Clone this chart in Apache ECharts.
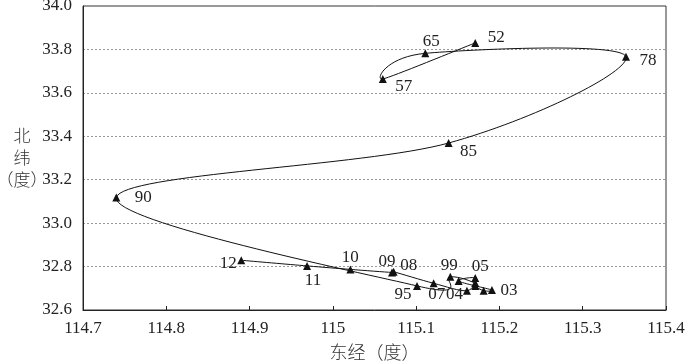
<!DOCTYPE html>
<html><head><meta charset="utf-8">
<script src="https://cdn.jsdelivr.net/npm/echarts@6/dist/echarts.min.js"></script>
<style>html,body{margin:0;padding:0;background:#fff}#c{width:686px;height:361px}</style>
</head><body><div id="c"></div>
<script>
// data (chronological)
const years = ['52','57','65','78','85','90','95','99','00','01','02','03','04','05','06','07','08','09','10','11','12'];
const lon   = [115.171,115.060,115.111,115.352,115.139,114.740,115.101,115.141,115.171,115.171,115.181,115.191,115.151,115.171,115.161,115.121,115.073,115.071,115.021,114.969,114.890];
const lat   = [33.830,33.664,33.782,33.766,33.369,33.118,32.711,32.753,32.724,32.710,32.689,32.692,32.733,32.747,32.689,32.723,32.776,32.773,32.787,32.803,32.829];
const shownLabels = ['52','57','65','78','85','90','95','99','03','04','05','07','08','09','10','11','12'];
const xTicks = {min:114.7, max:115.4, step:0.1};
const yTicks = {min:32.6, max:34.0, step:0.2};

// label placement (px offsets from the marker)
const labelOffset = {
  '52':[21,-5],'57':[21,8],'65':[6,-12],'78':[22,4],'85':[20,9],'90':[27,0],
  '95':[-14,9],'99':[-1,-11],'05':[5,-12],'03':[17,1],'04':[-4,13],'07':[3,11],
  '08':[15,-6],'09':[-5,-11],'10':[0,-12],'11':[6,15],'12':[-13,3]
};

const serif = 'Liberation Serif';
const pts = years.map((y,i)=>[lon[i],lat[i]]);
const data = years.map((y,i)=>{
  const item = {value:pts[i], name:y};
  if (shownLabels.includes(y)) {
    item.label = {show:true, position:'inside', offset:labelOffset[y], formatter:y,
      fontFamily:serif, fontSize:17, color:'#222'};
  }
  return item;
});

// smooth curve (Catmull-Rom style) through the points, placed with the chart's own scales
function renderSeg(params, api){
  const i = params.dataIndex;
  const n = pts.length;
  const P = j => api.coord(pts[Math.max(0, Math.min(n-1, j))]);
  const p0=P(i-1), p1=P(i), p2=P(i+1), p3=P(i+2);
  const k = 1/6;
  return {type:'bezierCurve', silent:true,
    shape:{x1:p1[0], y1:p1[1], x2:p2[0], y2:p2[1],
      cpx1:p1[0]+(p2[0]-p0[0])*k, cpy1:p1[1]+(p2[1]-p0[1])*k,
      cpx2:p2[0]-(p3[0]-p1[0])*k, cpy2:p2[1]-(p3[1]-p1[1])*k},
    style:{stroke:'#111', fill:null, lineWidth:1}};
}

const chart = echarts.init(document.getElementById('c'));
chart.setOption({
  animation:false,
  grid:{left:83, right:20, top:6, bottom:51, containLabel:false, outerBoundsMode:'none',
    show:true, borderColor:'#333', borderWidth:1, backgroundColor:'transparent'},
  xAxis:{type:'value', min:xTicks.min, max:xTicks.max, interval:xTicks.step,
    name:'东经（度）', nameLocation:'middle', nameGap:33, nameMoveOverlap:false,
    nameTextStyle:{fontFamily:'Noto Sans CJK SC', fontSize:18, color:'#333', fontWeight:300},
    axisLine:{lineStyle:{color:'#222'}}, axisTick:{inside:true, length:4, lineStyle:{color:'#222'}},
    axisLabel:{fontFamily:serif, fontSize:17, color:'#222', margin:10, formatter:v=>String(Math.round(v*10)/10)},
    splitLine:{show:false}},
  yAxis:{type:'value', min:yTicks.min, max:yTicks.max, interval:yTicks.step,
    name:'北\n纬\n（度）', nameLocation:'middle', nameRotate:0, nameGap:61, nameMoveOverlap:false,
    nameTextStyle:{fontFamily:'Noto Sans CJK SC', fontSize:17, color:'#333', lineHeight:22, fontWeight:300, align:'center', padding:[0,0,18,0]},
    axisLine:{show:true, lineStyle:{color:'#222'}}, axisTick:{show:false},
    axisLabel:{fontFamily:serif, fontSize:17, color:'#222', margin:11, formatter:v=>v.toFixed(1)},
    splitLine:{show:true, lineStyle:{color:'#999', type:[2,2], width:1}}},
  series:[
    {type:'custom', data:pts.slice(0, pts.length-1), renderItem:renderSeg, silent:true, z:2},
    {type:'line', data:data, symbol:'triangle', symbolSize:8, showAllSymbol:true,
      itemStyle:{color:'#111'}, lineStyle:{opacity:0}, z:3}
  ]
});
</script></body></html>
